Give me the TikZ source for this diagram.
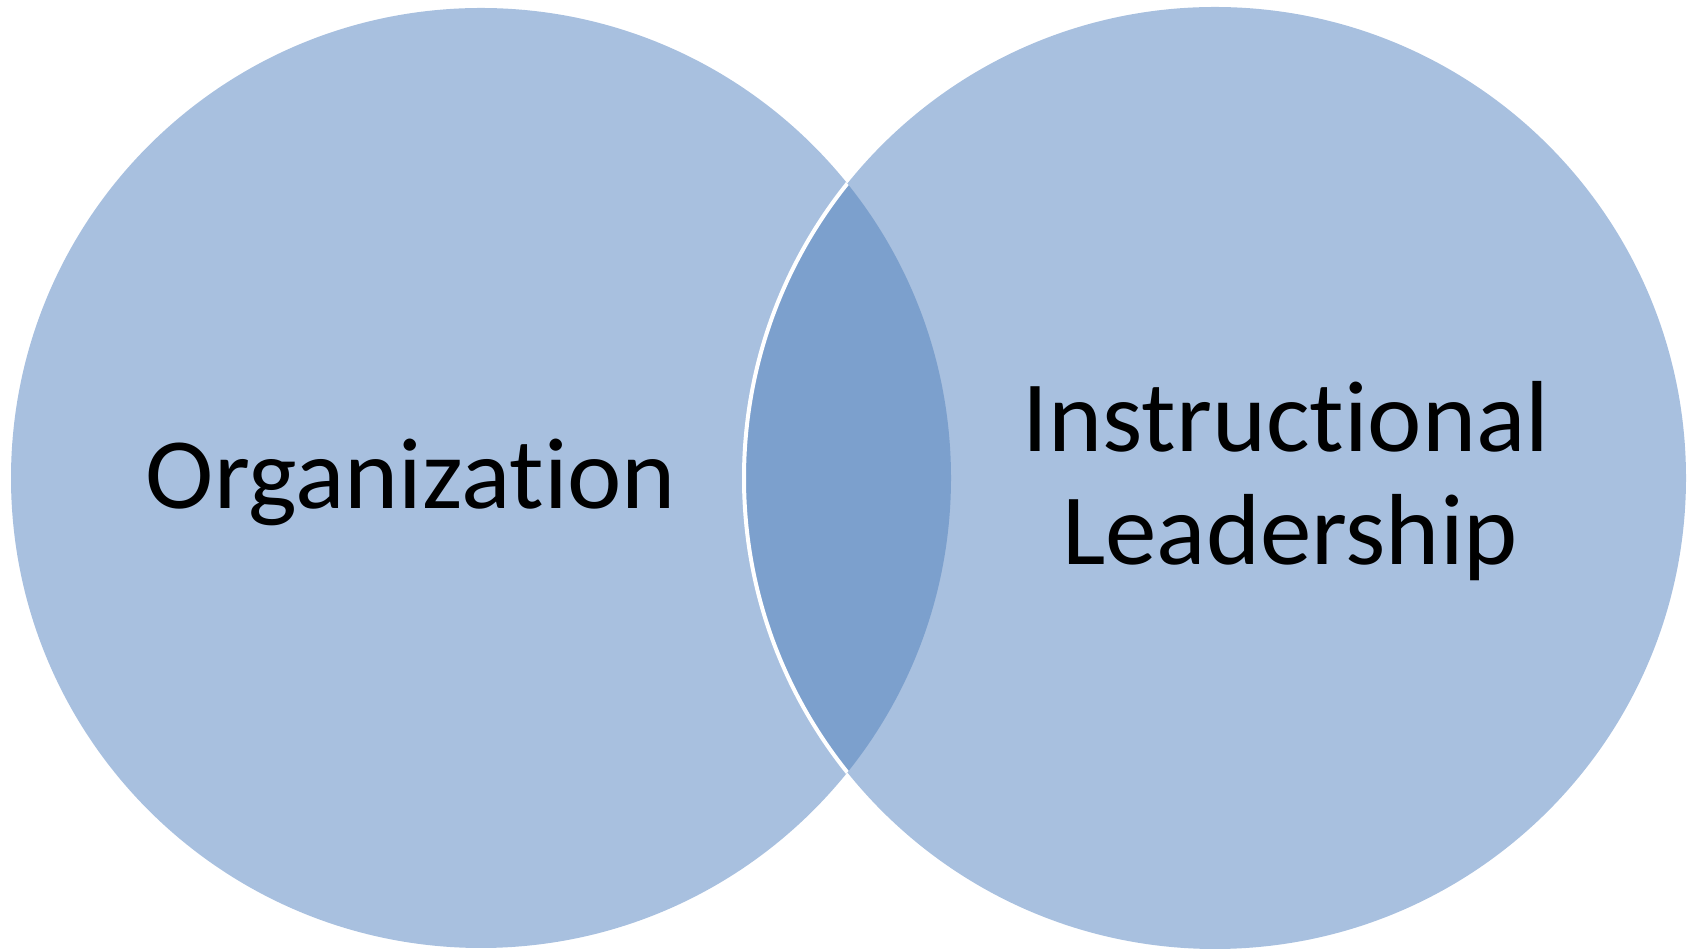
\documentclass[tikz,border=0pt]{standalone}
\usepackage{fontspec}
\setmainfont{Carlito}[Ligatures={NoCommon,NoRequired,NoContextual}]
\definecolor{lightblue}{RGB}{168,192,223}
\definecolor{darkblue}{RGB}{124,160,205}
\begin{document}
\begin{tikzpicture}[x=1pt,y=1pt,
  lbl/.style={inner sep=0pt, anchor=base, xscale=1.02, font=\fontsize{101}{114}\selectfont, text=black}]
\useasboundingbox (0,0) rectangle (1698,949);
\coordinate (cl) at (481,471);
\coordinate (cr) at (1215,471);
\fill[lightblue] (cl) circle (470);
\fill[lightblue] (cr) circle (471);
\begin{scope}
  \clip (cl) circle (470);
  \fill[darkblue] (cr) circle (471);
  \draw[white, line width=4pt] (cr) circle (471);
\end{scope}
\node[lbl] (org) at (411,440) {Organization};
\node[lbl] (ins) at (1286,497) {Instructional};
\node[lbl] (lead) at (1290,384) {Leadership};
\end{tikzpicture}
\end{document}
